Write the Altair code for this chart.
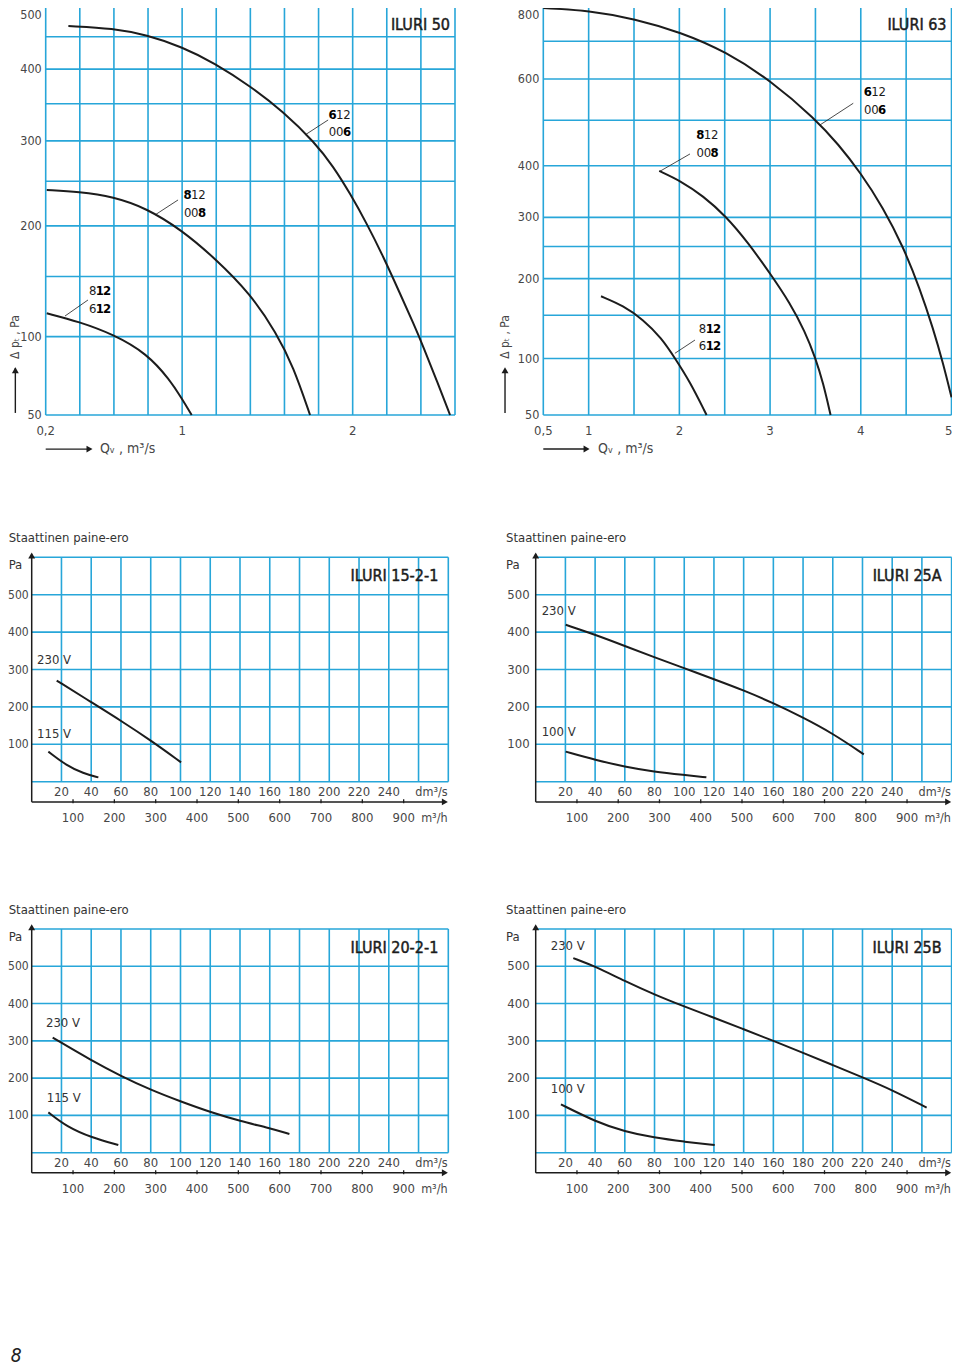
import altair as alt
import pandas as pd

FONT = "DejaVu Sans Condensed, Liberation Sans Narrow, Liberation Sans, sans-serif"
GRID_BLUE = "#27a6d9"
INK = "#1c1c1c"
GREY = "#474747"

# ---------------- ILURI 50 (top left) ----------------
I50_X_GRID = [0.2, 0.4, 0.6, 0.8, 1.0, 1.2, 1.4, 1.6, 1.8, 2.0, 2.2, 2.4, 2.6]
I50_Y_GRID = [50, 100, 150, 200, 250, 300, 350, 400, 450, 500]
I50_X_TICKS = [0.2, 1.0, 2.0]
I50_X_TICK_TEXT = ["0,2", "1", "2"]
I50_Y_TICKS = [50, 100, 200, 300, 400, 500]
I50_Q_612006 = [0.333, 0.597, 0.792, 0.997, 1.193, 1.398, 1.593, 1.779, 1.887, 1.984, 2.082, 2.180, 2.277, 2.356, 2.414, 2.492, 2.571]
I50_P_612006 = [467.1, 463.4, 452.7, 434.3, 408.7, 375.2, 339.0, 297.6, 267.5, 235.9, 202.7, 168.7, 135.0, 110.2, 92.7, 70.2, 50]
I50_Q_812008 = [0.206, 0.395, 0.597, 0.792, 0.997, 1.193, 1.398, 1.554, 1.652, 1.750]
I50_P_812008 = [239.7, 237.8, 232.0, 219.0, 195.6, 167.1, 135.0, 102.5, 78.8, 50]
I50_Q_812612 = [0.206, 0.395, 0.597, 0.792, 0.929, 0.997, 1.056]
I50_P_812612 = [118.2, 111.5, 101.7, 87.9, 70.2, 59.2, 50]
I50_LABEL_X = [1.861, 1.011, 0.454]
I50_LABEL_Y1 = [334.3, 233.9, 137.1]
I50_LABEL_Y2 = [311.5, 213.8, 121.7]
I50_LABEL_T1 = ["612", "812", "812"]
I50_LABEL_T2 = ["006", "008", "612"]
I50_LABEL_B1 = ["100", "100", "011"]
I50_LABEL_B2 = ["001", "001", "011"]
I50_LEADER = [(1.721, 307.7, 1.856, 327.6), (0.841, 211.7, 0.976, 228.3), (0.313, 116.0, 0.448, 129.3)]

# ---------------- ILURI 63 (top right) ----------------
I63_X_GRID = [0.5, 1.0, 1.5, 2.0, 2.5, 3.0, 3.5, 4.0, 4.5, 5.0]
I63_Y_GRID = [50, 100, 150, 200, 250, 300, 400, 500, 600, 700, 800]
I63_X_TICKS = [0.5, 1, 2, 3, 4, 5]
I63_X_TICK_TEXT = ["0,5", "1", "2", "3", "4", "5"]
I63_Y_TICKS = [50, 100, 200, 300, 400, 600, 800]
I63_Q_612006 = [0.5, 1.003, 1.510, 2.014, 2.513, 3.009, 3.501, 3.751, 3.997, 4.247, 4.468, 4.651, 4.798, 4.909, 5.0]
I63_P_612006 = [793.8, 787.0, 762.8, 725.0, 671.8, 595.9, 502.5, 445.9, 385.8, 317.6, 249.4, 185.7, 133.3, 94.6, 63.8]
I63_Q_812008 = [1.778, 2.014, 2.263, 2.513, 2.759, 3.009, 3.219, 3.384, 3.501, 3.586, 3.667]
I63_P_812008 = [389.2, 369.0, 339.6, 302.3, 256.0, 206.0, 165.9, 130.1, 100.4, 76.0, 50]
I63_Q_812612 = [1.136, 1.382, 1.602, 1.804, 1.951, 2.116, 2.300]
I63_P_812612 = [175.0, 162.3, 144.3, 122.3, 100.4, 77.5, 50]
I63_LABEL_X = [4.037, 2.190, 2.216]
I63_LABEL_Y1 = [567.5, 466.2, 133.0]
I63_LABEL_Y2 = [524.0, 426.9, 113.4]
I63_LABEL_T1 = ["612", "812", "812"]
I63_LABEL_T2 = ["006", "008", "612"]
I63_LABEL_B1 = ["100", "100", "011"]
I63_LABEL_B2 = ["001", "001", "011"]
I63_LEADER = [(3.549, 488.9, 3.917, 540.1), (1.778, 387.7, 2.117, 424.8), (1.951, 105.5, 2.172, 120.1)]

# ---------------- bottom panels (shared axes) ----------------
BOT_X_GRID = [20, 40, 60, 80, 100, 120, 140, 160, 180, 200, 220, 240, 260, 280]
BOT_Y_GRID = [0, 100, 200, 300, 400, 500, 600]
BOT_DM_TICKS = [20, 40, 60, 80, 100, 120, 140, 160, 180, 200, 220, 240]
BOT_M3H_TICKS = [100, 200, 300, 400, 500, 600, 700, 800, 900]
BOT_Y_TICKS = [100, 200, 300, 400, 500]

# ILURI 15-2-1
C_Q_230 = [16.8, 40.3, 60.0, 80.2, 100.4]
C_P_230 = [270.5, 212, 163, 110, 51.8]
C_Q_115 = [11.2, 23.5, 34.7, 44.8]
C_P_115 = [80.4, 42.9, 22.3, 11.6]
C_LABELS = ["230 V", "115 V"]
C_LABEL_X = [3.6, 3.6]
C_LABEL_Y = [325.6, 127.5]

# ILURI 25A
D_Q_230 = [20.2, 40.3, 60.0, 79.7, 99.9, 120.0, 140.2, 160.1, 179.8, 200.0, 220.9]
D_P_230 = [419.6, 392.9, 363, 333, 303.6, 274, 244, 210, 172, 129, 73.2]
D_Q_100 = [20.2, 40.3, 60.0, 79.7, 99.9, 114.9]
D_P_100 = [80.4, 58, 40, 26.8, 17.9, 11.6]
D_LABELS = ["230 V", "100 V"]
D_LABEL_X = [4.0, 4.0]
D_LABEL_Y = [456.4, 132.9]

# ILURI 20-2-1
E_Q_230 = [14.1, 40.3, 60.0, 80.2, 100.4, 120.5, 140.0, 160.2, 173.2]
E_P_230 = [308.6, 246.9, 205.7, 168, 136.9, 108.2, 85, 65.3, 50.1]
E_Q_115 = [11.2, 23.5, 40.3, 58.2]
E_P_115 = [108.2, 69.8, 40.3, 20.6]
E_LABELS = ["230 V", "115 V"]
E_LABEL_X = [9.6, 10.1]
E_LABEL_Y = [347.9, 146.7]

# ILURI 25B
F_Q_230 = [25.3, 40, 60, 80, 100, 120, 140, 160, 180, 200, 220, 240, 263.2]
F_P_230 = [522, 500, 460, 424, 392, 362, 331, 300, 268, 235, 202, 168, 121]
F_Q_100 = [17.0, 40.3, 60.0, 79.7, 99.9, 120.5]
F_P_100 = [129.7, 83.2, 56.4, 40.3, 29.5, 20.6]
F_LABELS = ["230 V", "100 V"]
F_LABEL_X = [10.1, 10.1]
F_LABEL_Y = [555.3, 170.9]


# ---------------- helpers ----------------
def enc(xs, ys):
    return dict(x=alt.X("x:Q", scale=xs, axis=None), y=alt.Y("y:Q", scale=ys, axis=None))


def vrules(xv, y0, y1, xs, ys, color, width):
    df = pd.DataFrame({"x": xv, "y": [y0] * len(xv), "y2": [y1] * len(xv)})
    return alt.Chart(df).mark_rule(color=color, strokeWidth=width).encode(y2="y2:Q", **enc(xs, ys))


def hrules(yv, x0, x1, xs, ys, color, width):
    df = pd.DataFrame({"y": yv, "x": [x0] * len(yv), "x2": [x1] * len(yv)})
    return alt.Chart(df).mark_rule(color=color, strokeWidth=width).encode(x2="x2:Q", **enc(xs, ys))


def segs(seglist, xs, ys, color=INK, width=0.8):
    df = pd.DataFrame(seglist, columns=["x", "y", "x2", "y2"])
    return alt.Chart(df).mark_rule(color=color, strokeWidth=width).encode(x2="x2:Q", y2="y2:Q", **enc(xs, ys))


def texts(xv, yv, tv, xs, ys, **mk):
    df = pd.DataFrame({"x": xv, "y": yv, "t": tv})
    mk.setdefault("font", FONT)
    mk.setdefault("baseline", "middle")
    return alt.Chart(df).mark_text(**mk).encode(text="t:N", **enc(xs, ys))


def heads(xv, yv, shape, xs, ys):
    df = pd.DataFrame({"x": xv, "y": yv})
    return alt.Chart(df).mark_point(shape=shape, filled=True, size=48, color=INK,
                                    opacity=1, strokeWidth=0).encode(**enc(xs, ys))


def curve(q, p, xs, ys):
    df = pd.DataFrame({"x": q, "y": p})
    return alt.Chart(df).mark_line(color=INK, strokeWidth=2, interpolate="basis").encode(**enc(xs, ys))


def char_labels(lx, ly, lt, lb, slot, xs, ys):
    rows = []
    for x0, y0, t, m in zip(lx, ly, lt, lb):
        for i, (ch, b) in enumerate(zip(t, m)):
            rows.append((x0 + (i + 0.5) * slot, y0, ch, b == "1"))
    df = pd.DataFrame(rows, columns=["x", "y", "t", "b"])
    nb = df[~df.b]
    bb = df[df.b]
    return [
        texts(list(nb.x), list(nb.y), list(nb.t), xs, ys, fontSize=13, color=INK, align="center"),
        texts(list(bb.x), list(bb.y), list(bb.t), xs, ys, fontSize=13, color="#000", align="center", fontWeight="bold"),
    ]


def title_text(x, y, t, xs, ys, dx, dy):
    return texts([x], [y], [t], xs, ys, fontSize=16, color=INK, stroke=INK, strokeWidth=0.45,
                 align="right", dx=dx, dy=dy)


layers = []


def top_panel(xs, ys, xgrid, ygrid, xt, xtt, yt, curves, lab, leaders, slot, title,
              yarrow, xarrow):
    xmin, xmax = xgrid[0], xgrid[-1]
    ymin, ymax = ygrid[0], ygrid[-1]
    out = [
        vrules(xgrid, ymin, ymax, xs, ys, GRID_BLUE, 1.6),
        hrules(ygrid, xmin, xmax, xs, ys, GRID_BLUE, 1.6),
    ]
    for q, p in curves:
        out.append(curve(q, p, xs, ys))
    out.append(segs(leaders, xs, ys))
    lx, ly1, ly2, lt1, lt2, lb1, lb2 = lab
    out += char_labels(lx, ly1, lt1, lb1, slot, xs, ys)
    out += char_labels(lx, ly2, lt2, lb2, slot, xs, ys)
    inner = [v for v in yt if v != ymax]
    out.append(texts([xmin] * len(inner), inner, [str(v) for v in inner], xs, ys,
                     fontSize=12.5, color=GREY, align="right", dx=-4))
    out.append(texts([xmin], [ymax], [str(ymax)], xs, ys,
                     fontSize=12.5, color=GREY, align="right", dx=-4, baseline="top", dy=3))
    inner_x = [(v, t) for v, t in zip(xt, xtt) if v != xmax]
    out.append(texts([v for v, _ in inner_x], [ymin] * len(inner_x), [t for _, t in inner_x],
                     xs, ys, fontSize=13, color=GREY, align="center", dy=16))
    last = [(v, t) for v, t in zip(xt, xtt) if v == xmax]
    if last:
        out.append(texts([last[0][0]], [ymin], [last[0][1]], xs, ys, fontSize=13, color=GREY,
                         align="right", dx=1, dy=16))
    out.append(title_text(xmax, ymax, title, xs, ys, -5, 19))
    # y-axis title with arrow
    ax, ay0, ay1, ayh, aty = yarrow
    out.append(segs([(ax, ay0, ax, ay1)], xs, ys, width=1.4))
    out.append(heads([ax], [ayh], "triangle-up", xs, ys))
    out.append(texts([ax], [aty], ["Δ pₜ , Pa"], xs, ys, fontSize=12, color=GREY,
                     align="center", angle=270))
    # x-axis title with arrow
    bx0, bx1, bxh, by, btx = xarrow
    out.append(segs([(bx0, by, bx1, by)], xs, ys, width=1.4))
    out.append(heads([bxh], [by], "triangle-right", xs, ys))
    out.append(texts([btx], [by], ["Qᵥ , m³/s"], xs, ys, fontSize=14, color=GREY, align="left"))
    return out


def bottom_panel(xs, ys, title, curves, vlab, left_x, ylab_size, ylab_dx, extra=None):
    out = [
        vrules(BOT_X_GRID, 0, 600, xs, ys, GRID_BLUE, 1.6),
        hrules(BOT_Y_GRID, 0, 280, xs, ys, GRID_BLUE, 1.6),
        segs([(0, -54, 277, -54), (0, -54, 0, 608)], xs, ys, width=1.5),
        heads([277.7], [-54], "triangle-right", xs, ys),
        heads([0], [605], "triangle-up", xs, ys),
    ]
    df = pd.DataFrame({"m": BOT_M3H_TICKS})
    out.append(alt.Chart(df).transform_calculate(x="datum.m / 3.6", y="-47", y2="-57.5")
               .mark_rule(color=INK, strokeWidth=1.3).encode(y2="y2:Q", **enc(xs, ys)))
    for q, p in curves:
        out.append(curve(q, p, xs, ys))
    lt, lx, ly = vlab
    out.append(texts(lx, ly, lt, xs, ys, fontSize=13, color="#333", align="left"))
    out.append(texts([0] * len(BOT_Y_TICKS), BOT_Y_TICKS, [str(v) for v in BOT_Y_TICKS], xs, ys,
                     fontSize=ylab_size, color=GREY, align="right", dx=ylab_dx))
    out.append(texts(BOT_DM_TICKS, [0] * len(BOT_DM_TICKS),
                     [str(v) for v in BOT_DM_TICKS], xs, ys,
                     fontSize=13, color=GREY, align="center", dy=10))
    out.append(texts([279.5], [0], ["dm³/s"], xs, ys, fontSize=12.5, color=GREY, align="right", dy=10))
    df2 = pd.DataFrame({"m": BOT_M3H_TICKS, "t": [str(v) for v in BOT_M3H_TICKS]})
    out.append(alt.Chart(df2).transform_calculate(x="datum.m / 3.6", y="0")
               .mark_text(font=FONT, fontSize=13, color=GREY, align="center", baseline="middle", dy=36)
               .encode(text="t:N", **enc(xs, ys)))
    out.append(texts([279.5], [0], ["m³/h"], xs, ys, fontSize=12.5, color=GREY, align="right", dy=36))
    out.append(texts([left_x, left_x], [651.5, 579.4], ["Staattinen paine-ero", "Pa"], xs, ys,
                     fontSize=13, color="#333", align="left"))
    out.append(title_text(280, 600, title, xs, ys, -10, 19))
    if extra:
        out += extra
    return out


# ---------------- scales (per panel) ----------------
def lin(d, r):
    return alt.Scale(domain=d, range=r, zero=False, nice=False)


def sq(d, r):
    return alt.Scale(type="sqrt", domain=d, range=r, zero=False, nice=False)


A_xs, A_ys = lin([0.2, 2.6], [37.7, 447.0]), sq([50, 500], [407, -2])
B_xs, B_ys = lin([0.5, 5.0], [535.3, 943.5]), sq([50, 800], [407, -2])
C_xs, C_ys = lin([0, 280], [23.7, 440.3]), lin([0, 600], [773.7, 549.3])
D_xs, D_ys = lin([0, 280], [527.7, 943.6]), lin([0, 600], [773.7, 549.3])
E_xs, E_ys = lin([0, 280], [23.7, 440.3]), lin([0, 600], [1144.7, 921.0])
F_xs, F_ys = lin([0, 280], [527.7, 943.6]), lin([0, 600], [1144.7, 921.0])

layers += top_panel(
    A_xs, A_ys, I50_X_GRID, I50_Y_GRID, I50_X_TICKS, I50_X_TICK_TEXT, I50_Y_TICKS,
    [(I50_Q_612006, I50_P_612006), (I50_Q_812008, I50_P_812008), (I50_Q_812612, I50_P_812612)],
    (I50_LABEL_X, I50_LABEL_Y1, I50_LABEL_Y2, I50_LABEL_T1, I50_LABEL_T2, I50_LABEL_B1, I50_LABEL_B2),
    I50_LEADER, 7.2 / 170.5, "ILURI 50",
    (0.022, 51.1, 78.0, 76.4, 99.7),
    (0.2, 0.45, 0.457, 33.6, 0.518),
)
layers += top_panel(
    B_xs, B_ys, I63_X_GRID, I63_Y_GRID, I63_X_TICKS, I63_X_TICK_TEXT, I63_Y_TICKS,
    [(I63_Q_612006, I63_P_612006), (I63_Q_812008, I63_P_812008), (I63_Q_812612, I63_P_812612)],
    (I63_LABEL_X, I63_LABEL_Y1, I63_LABEL_Y2, I63_LABEL_T1, I63_LABEL_T2, I63_LABEL_B1, I63_LABEL_B2),
    I63_LEADER, 7.2 / 90.75, "ILURI 63",
    (0.078, 51.5, 89.0, 88.1, 123.6),
    (0.5, 0.96, 0.977, 28.2, 1.103),
)
layers += bottom_panel(C_xs, C_ys, "ILURI 15-2-1", [(C_Q_230, C_P_230), (C_Q_115, C_P_115)],
                       (C_LABELS, C_LABEL_X, C_LABEL_Y), -15.5, 12, -3)
layers += bottom_panel(D_xs, D_ys, "ILURI 25A", [(D_Q_230, D_P_230), (D_Q_100, D_P_100)],
                       (D_LABELS, D_LABEL_X, D_LABEL_Y), -20, 13, -6)
layers += bottom_panel(E_xs, E_ys, "ILURI 20-2-1", [(E_Q_230, E_P_230), (E_Q_115, E_P_115)],
                       (E_LABELS, E_LABEL_X, E_LABEL_Y), -15.5, 12, -3,
                       extra=[texts([-14.0], [-546.0], ["8"], E_xs, E_ys, fontSize=19,
                                    fontStyle="italic", color="#222", align="left")])
layers += bottom_panel(F_xs, F_ys, "ILURI 25B", [(F_Q_230, F_P_230), (F_Q_100, F_P_100)],
                       (F_LABELS, F_LABEL_X, F_LABEL_Y), -20, 13, -6)

chart = (
    alt.layer(*layers)
    .resolve_scale(x="independent", y="independent")
    .properties(width=944, height=1362, padding=0, background="white",
                autosize=alt.AutoSizeParams(type="none"))
    .configure_view(stroke=None)
)
chart.save("out.html", embed_options={"renderer": "svg", "actions": False})
